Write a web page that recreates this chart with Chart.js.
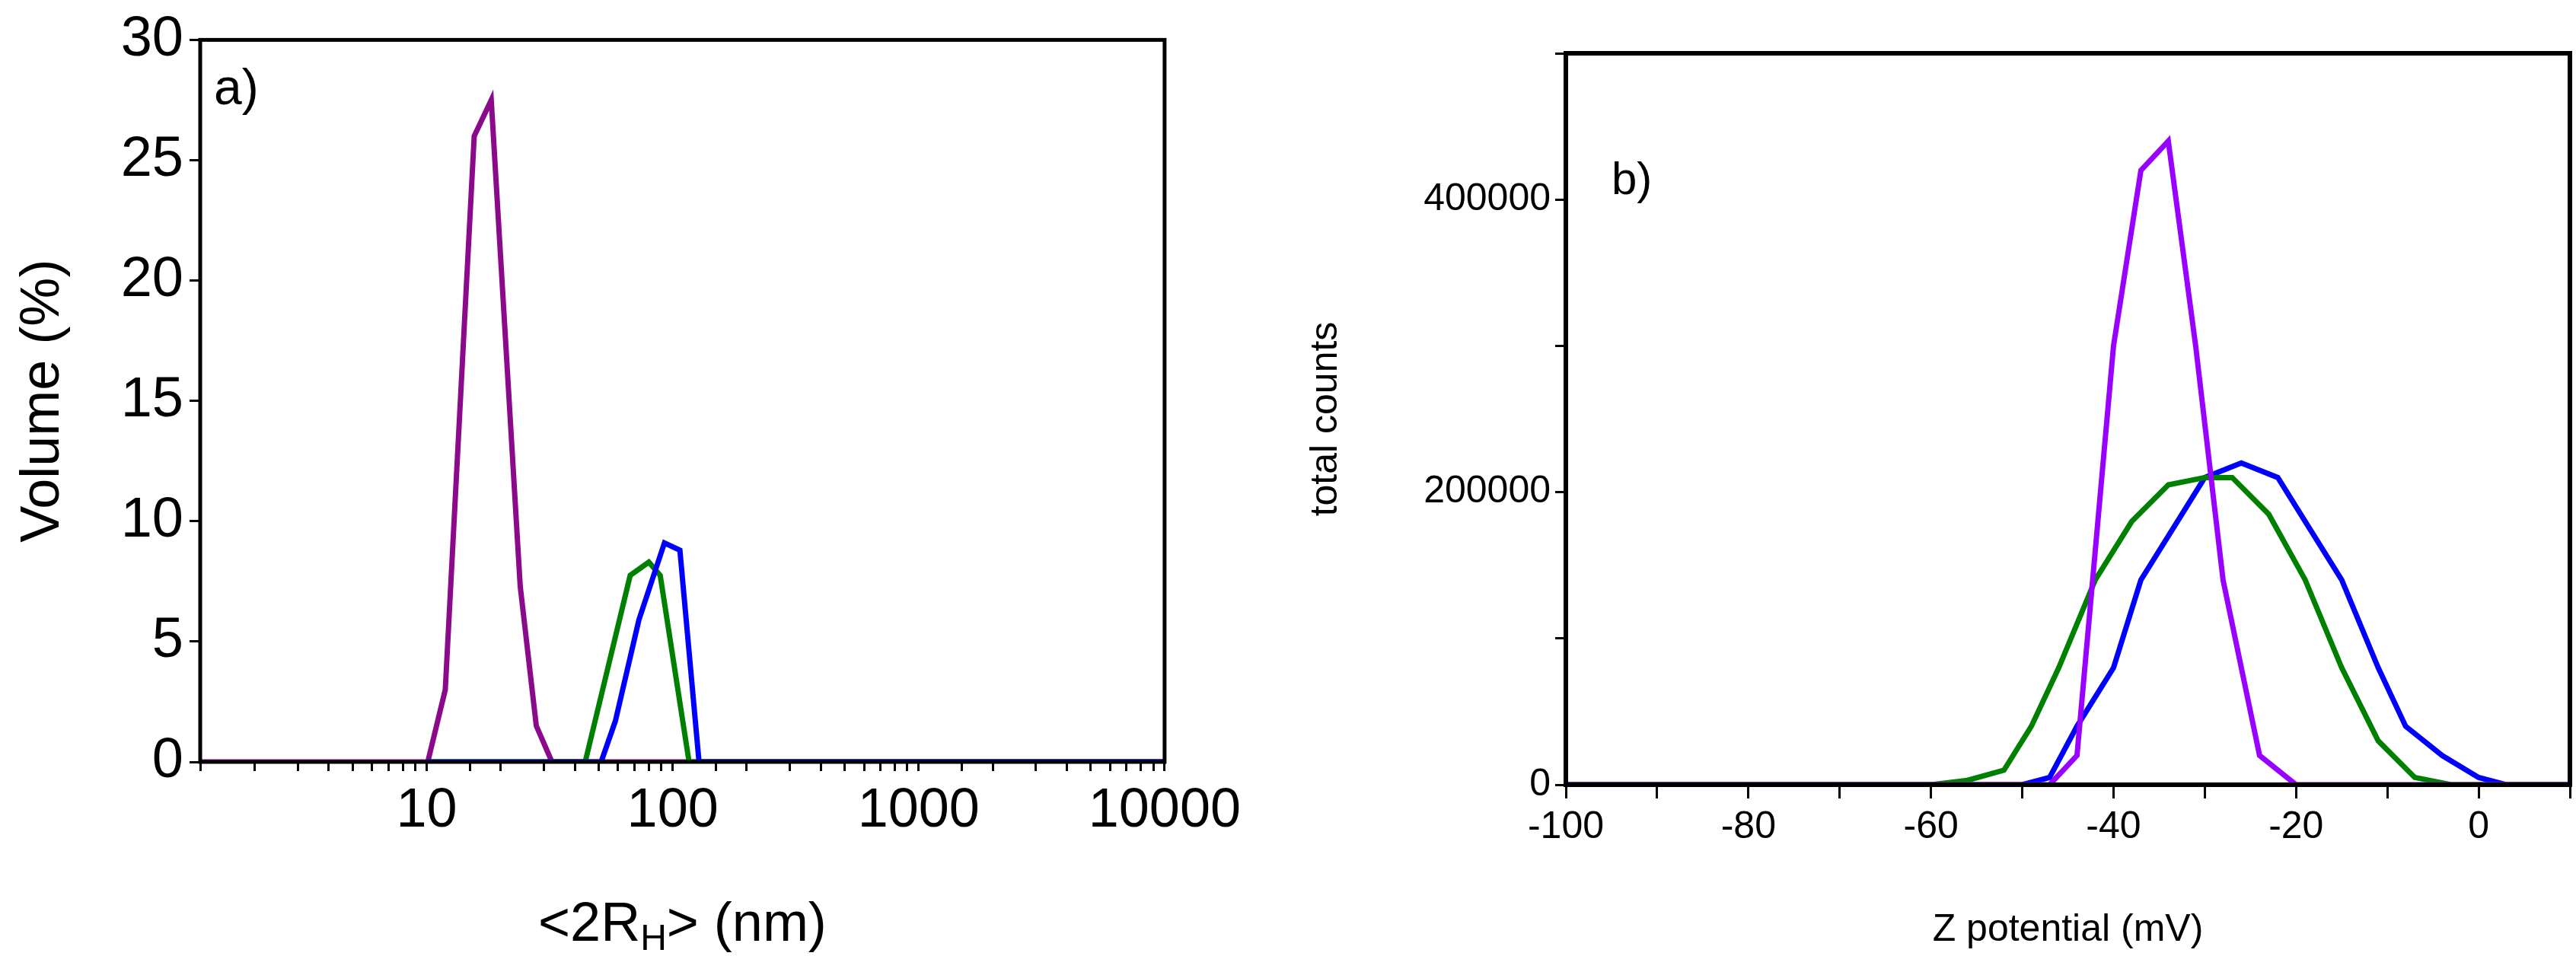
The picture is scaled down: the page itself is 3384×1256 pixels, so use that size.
<!DOCTYPE html>
<html>
<head>
<meta charset="utf-8">
<script src="https://cdn.jsdelivr.net/npm/chart.js@4.4.1/dist/chart.umd.min.js"></script>
<style>
  body { margin: 0; background: #fff; width: 3384px; height: 1256px; position: relative; overflow: hidden; }
  .box { position: absolute; top: 0; height: 1256px; }
</style>
</head>
<body>
<div class="box" style="left:0;width:1640px"><canvas id="chart-a"></canvas></div>
<div class="box" style="left:1700px;width:1684px"><canvas id="chart-b"></canvas></div>
<script>
// a) size distribution (volume %)
const size_purple_x = [1.2, 10.1, 11.9, 15.6, 18.3, 24.0, 27.9, 32.3, 10000]
const size_purple_y = [0, 0, 3.0, 26, 27.5, 7.3, 1.5, 0, 0]
const size_green_x = [10, 44.1, 67.2, 80, 89, 116.6, 10000]
const size_green_y = [0, 0, 7.75, 8.3, 7.75, 0, 0]
const size_blue_x = [10, 51.2, 58.5, 72.9, 92.6, 107, 128, 10000]
const size_blue_y = [0, 0, 1.7, 5.9, 9.1, 8.8, 0, 0]

// b) zeta potential
const zeta_purple_x = [-100, -47, -44, -40, -37, -34, -31, -28, -24, -20, 10]
const zeta_purple_y = [0, 0, 20000, 300000, 420000, 440000, 300000, 140000, 20000, 0, 0]
const zeta_green_x = [-100, -60, -56, -52, -49, -46, -42, -38, -34, -30, -27, -23, -19, -15, -11, -7, -3, 10]
const zeta_green_y = [0, 0, 3000, 10000, 40000, 80000, 140000, 180000, 205000, 210000, 210000, 185000, 140000, 80000, 30000, 5000, 0, 0]
const zeta_blue_x = [-100, -50, -47, -44, -40, -37, -33, -30, -26, -22, -19, -15, -11, -8, -4, 0, 3, 10]
const zeta_blue_y = [0, 0, 5000, 40000, 80000, 140000, 180000, 210000, 220000, 210000, 180000, 140000, 80000, 40000, 20000, 5000, 0, 0]

const pts = (xs, ys) => xs.map((x, i) => ({ x: x, y: ys[i] }))
const FONT = "'Liberation Sans', Arial, sans-serif"

const frame = {
    id: "frame",
    afterDraw(chart, args, opts) {
        const { ctx, chartArea: a } = chart
        ctx.save()
        ctx.strokeStyle = "#000"
        ctx.lineWidth = opts.width
        ctx.strokeRect(a.left, a.top, a.right - a.left, a.bottom - a.top)
        ctx.fillStyle = "#000"
        ctx.textBaseline = "alphabetic"
        ctx.font = opts.labelFont
        ctx.fillText(opts.label, a.left + opts.labelX, a.top + opts.labelY)
        if (opts.xTitle) {
            // x title with subscript H
            const y = opts.xTitleY
            const p1 = "<2R", p3 = "> (nm)"
            ctx.font = opts.titleFont
            const w1 = ctx.measureText(p1).width
            const w3 = ctx.measureText(p3).width
            ctx.font = opts.subFont
            const w2 = ctx.measureText("H").width
            let x = (a.left + a.right) / 2 - (w1 + w2 + w3) / 2
            ctx.font = opts.titleFont
            ctx.fillText(p1, x, y); x += w1
            ctx.font = opts.subFont
            ctx.fillText("H", x, y + 12); x += w2
            ctx.font = opts.titleFont
            ctx.fillText(p3, x, y)
        }
        ctx.restore()
    }
}

const line = (data, color, w) => ({
    data: data, borderColor: color, borderWidth: w, pointRadius: 0, fill: false, tension: 0
})

new Chart(document.getElementById("chart-a"), {
    type: "line",
    data: {
        datasets: [
            line(pts(size_blue_x, size_blue_y), "#0000ff", 7),
            line(pts(size_green_x, size_green_y), "#008000", 7),
            line(pts(size_purple_x, size_purple_y), "#8b0a8b", 7)
        ]
    },
    plugins: [frame],
    options: {
        responsive: true, maintainAspectRatio: false, animation: false,
        layout: { padding: { top: 52, right: 89, bottom: 0, left: 0 } },
        plugins: {
            legend: { display: false }, tooltip: { enabled: false },
            frame: {
                width: 5, label: "a)", labelX: 18, labelY: 85, labelFont: `66px ${FONT}`,
                xTitle: true, xTitleY: 1236, titleFont: `72px ${FONT}`, subFont: `48px ${FONT}`
            }
        },
        scales: {
            x: {
                type: "logarithmic", min: 1.2, max: 10000,
                afterFit: s => { s.height = 255 },
                grid: { drawOnChartArea: false, color: "#000", tickLength: 12, lineWidth: 3 },
                border: { display: false },
                ticks: {
                    color: "#000", font: { family: FONT, size: 72 }, padding: 10, autoSkip: false, maxRotation: 0,
                    callback: v => [10, 100, 1000, 10000].includes(v) ? String(v) : ""
                }
            },
            y: {
                min: 0, max: 30,
                afterFit: s => { s.width = 263 },
                grid: { drawOnChartArea: false, color: "#000", tickLength: 14, lineWidth: 3 },
                border: { display: false },
                ticks: {
                    stepSize: 2.5, color: "#000", font: { family: FONT, size: 74 }, padding: 8,
                    callback: v => v % 5 === 0 ? String(v) : ""
                },
                title: { display: true, text: "Volume (%)", color: "#000", font: { family: FONT, size: 72 }, padding: 14 }
            }
        }
    }
})

new Chart(document.getElementById("chart-b"), {
    type: "line",
    data: {
        datasets: [
            line(pts(zeta_purple_x, zeta_purple_y), "#9900ff", 7),
            line(pts(zeta_green_x, zeta_green_y), "#008000", 7),
            line(pts(zeta_blue_x, zeta_blue_y), "#0000ff", 7)
        ]
    },
    plugins: [frame],
    options: {
        responsive: true, maintainAspectRatio: false, animation: false,
        layout: { padding: { top: 70, right: 5, bottom: 0, left: 0 } },
        plugins: {
            legend: { display: false }, tooltip: { enabled: false },
            frame: { width: 6, label: "b)", labelX: 60, labelY: 185, labelFont: `60px ${FONT}` }
        },
        scales: {
            x: {
                type: "linear", min: -100, max: 10,
                afterFit: s => { s.height = 225 },
                grid: { drawOnChartArea: false, color: "#000", tickLength: 18, lineWidth: 3 },
                border: { display: false },
                ticks: {
                    stepSize: 10, color: "#000", font: { family: FONT, size: 50 }, padding: 8, autoSkip: false, maxRotation: 0,
                    callback: v => v % 20 === 0 ? String(v) : ""
                },
                title: { display: true, text: "Z potential (mV)", color: "#000", font: { family: FONT, size: 50 }, padding: { top: 22 } }
            },
            y: {
                min: 0, max: 500000,
                afterFit: s => { s.width = 357 },
                grid: { drawOnChartArea: false, color: "#000", tickLength: 14, lineWidth: 3 },
                border: { display: false },
                ticks: {
                    stepSize: 100000, color: "#000", font: { family: FONT, size: 50 }, padding: 6,
                    callback: v => v % 200000 === 0 ? String(v) : ""
                },
                title: { display: true, text: "total counts", color: "#000", font: { family: FONT, size: 50 }, padding: 12 }
            }
        }
    }
})
</script>
</body>
</html>
